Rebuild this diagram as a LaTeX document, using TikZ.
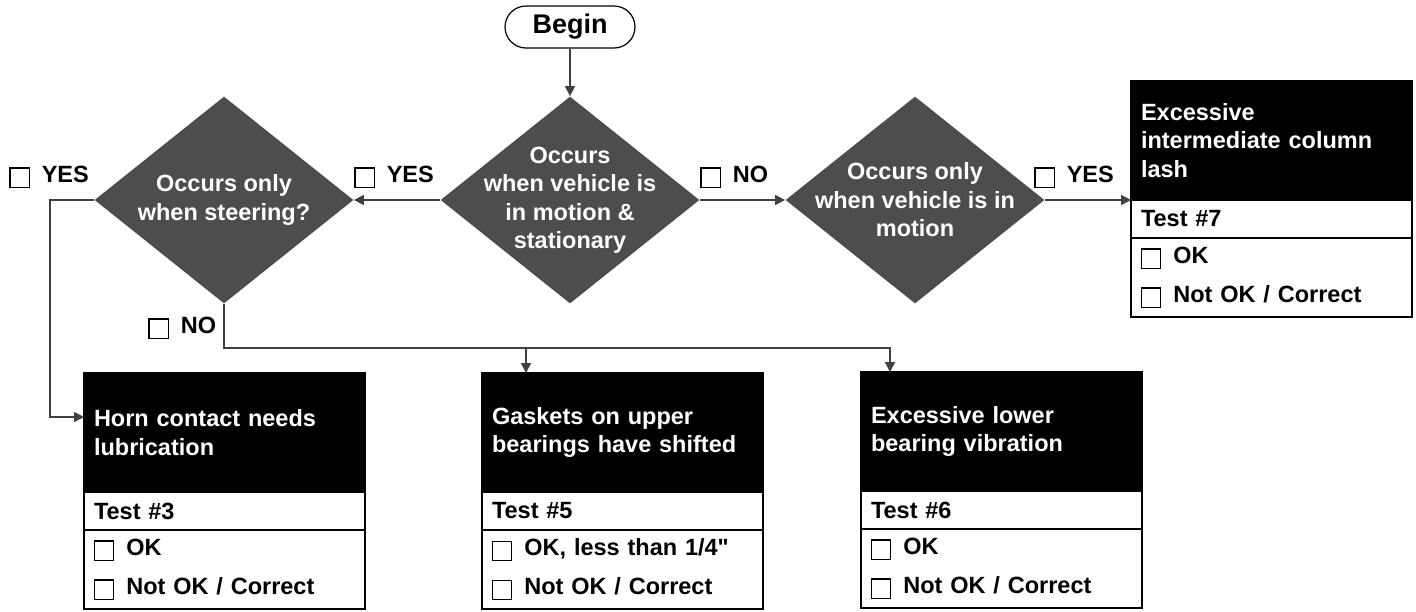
\documentclass[tikz,border=0pt]{standalone}
\usepackage{fontspec}
\setmainfont{Liberation Sans}[Ligatures=TeXOff]
\usetikzlibrary{shapes.geometric,arrows.meta,positioning}

\definecolor{dgray}{RGB}{77,77,77}
\definecolor{conngray}{RGB}{64,64,64}

% empty tick box used in labels and result boxes
\newcommand{\chk}{\raisebox{-2pt}{\setlength{\fboxsep}{0pt}\setlength{\fboxrule}{0.6pt}\fbox{\rule{0pt}{9pt}\hspace{9pt}}}\hspace{6pt}}

\tikzset{
  txt/.style={font=\bfseries\fontsize{11.75}{14.25}\selectfont},
  startstop/.style={draw, line width=0.6pt, rounded corners=10.5pt, minimum width=65pt, minimum height=21pt, inner sep=0pt, font=\bfseries\fontsize{13.5}{16}\selectfont},
  decision/.style={diamond, fill=dgray, minimum width=129.5pt, minimum height=103.5pt, inner sep=0pt},
  dtext/.style={txt, text=white, align=center, inner sep=0pt},
  tag/.style={txt, inner sep=0pt, anchor=west},
  testrow/.style={txt, draw, line width=1pt, outer sep=0pt, text width=130.5pt, inner xsep=5pt, inner ysep=0pt, minimum height=19pt, align=left},
  head/.style={testrow, fill=black, text=white, minimum height=59.5pt},
  checkrow/.style={testrow, font=\bfseries\fontsize{11.75}{19.5}\selectfont, minimum height=39.5pt},
  conn/.style={draw=conngray, line width=0.7pt, -{Triangle[length=5pt,width=5pt]}},
}

\begin{document}
\begin{tikzpicture}[x=0.5pt,y=-0.5pt]
  \useasboundingbox (0,0) rectangle (1416,611);

  % start and questions
  \node[startstop] (begin) at (570,27) {Begin};
  \node[decision] (d1) at (570,200) {};
  \node[dtext] (d1t) at (d1) {Occurs\\when vehicle is\\in motion \&\\stationary};
  \node[decision] (d2) at (224,200) {};
  \node[dtext] (d2t) at (d2) {Occurs only\\when steering?};
  \node[decision] (d3) at (915,200) {};
  \node[dtext] (d3t) at (d3) {Occurs only\\when vehicle is in\\motion};

  % result boxes
  \node[head, anchor=north west] (h3) at (84,373) {Horn contact needs\\lubrication};
  \node[testrow, below=0pt of h3] (t3) {Test \#3};
  \node[checkrow, below=0pt of t3] (c3) {\chk OK\\\chk Not OK / Correct};

  \node[head, anchor=north west] (h5) at (482,373) {Gaskets on upper\\bearings have shifted};
  \node[testrow, below=0pt of h5] (t5) {Test \#5};
  \node[checkrow, below=0pt of t5] (c5) {\chk OK, less than 1/4"\\\chk Not OK / Correct};

  \node[head, anchor=north west] (h6) at (861,372) {Excessive lower\\bearing vibration};
  \node[testrow, below=0pt of h6] (t6) {Test \#6};
  \node[checkrow, below=0pt of t6] (c6) {\chk OK\\\chk Not OK / Correct};

  \node[head, anchor=north west] (h7) at (1131,81) {Excessive\\intermediate column\\lash};
  \node[testrow, below=0pt of h7] (t7) {Test \#7};
  \node[checkrow, below=0pt of t7] (c7) {\chk OK\\\chk Not OK / Correct};

  % answers
  \node[tag] (yes2) at (9,177) {\chk YES};
  \node[tag] (yes1) at (354,177) {\chk YES};
  \node[tag] (no1) at (700,177) {\chk NO};
  \node[tag] (yes3) at (1034,177) {\chk YES};
  \node[tag] (no2) at (148,328) {\chk NO};

  % connectors
  \coordinate (in3) at (84,417);
  \coordinate (nojoin) at (224,348);
  \coordinate (in5) at (526,373);
  \coordinate (in6) at (890,372);
  \draw[conn] (begin) -- (d1);
  \draw[conn] (d1) -- (d2);
  \draw[conn] (d1) -- (d3);
  \draw[conn] (d3) -- (h7.south west);
  \draw[conn] (d2.west) -- ++(-44,0) |- (in3);
  \draw[conn] (d2.south) -- (nojoin) -| (in6);
  \draw[conn] (nojoin -| in5) -- (in5);
\end{tikzpicture}
\end{document}
